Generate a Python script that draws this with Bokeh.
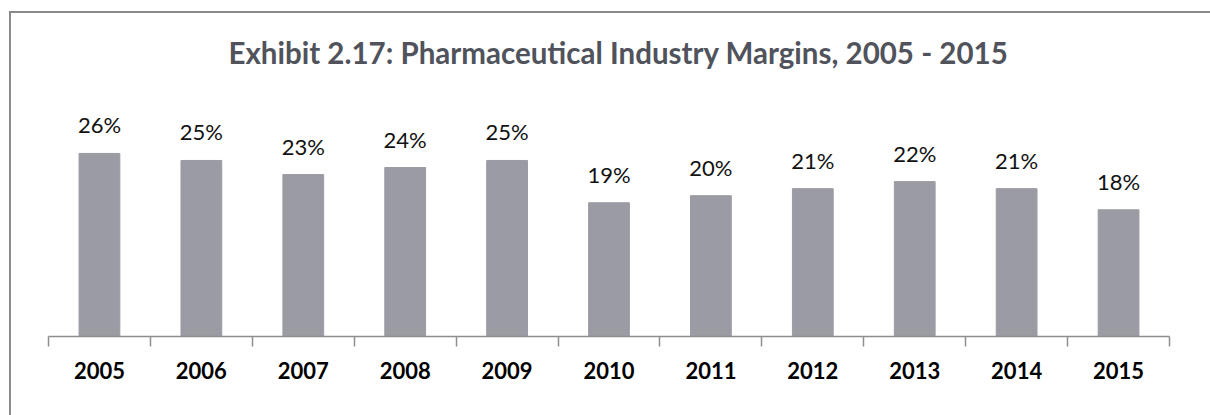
from bokeh.plotting import figure
from bokeh.layouts import column
from bokeh.models import ColumnDataSource, LabelSet, Range1d, FixedTicker
from bokeh.core.properties import value
from bokeh.embed import file_html
from bokeh.resources import INLINE

years = ["2005", "2006", "2007", "2008", "2009", "2010", "2011", "2012", "2013", "2014", "2015"]
margins = [26, 25, 23, 24, 25, 19, 20, 21, 22, 21, 18]
title_text = "Exhibit 2.17: Pharmaceutical Industry Margins, 2005 - 2015"

xs = list(range(len(years)))
src = ColumnDataSource(dict(x=xs, y=margins, lbl=[f"{m}%" for m in margins]))

p = figure(width=1199, height=402, output_backend="svg", toolbar_location=None,
           x_range=Range1d(-0.5, len(years) - 0.5), y_range=Range1d(0, 35.08),
           min_border_left=37, min_border_right=41, min_border_top=75, min_border_bottom=79)

p.title.text = title_text
p.title.align = "left"
p.title.offset = 180
p.title.text_font = "Lato"
p.title.text_font_style = "bold"
p.title.text_font_size = "29.5px"
p.title.text_color = "#50535c"
p.title.standoff = 39

p.vbar(x="x", top="y", width=0.4, source=src, color="#9b9ba4")

labels = LabelSet(x="x", y="y", text="lbl", source=src, text_align="center",
                  text_baseline="alphabetic", y_offset=20, text_font=value("Lato"),
                  text_font_size=value("22px"), text_color="#111111")
p.add_layout(labels)

p.yaxis.visible = False
p.grid.visible = False
p.outline_line_color = None

ax = p.xaxis[0]
ax.ticker = FixedTicker(ticks=xs, minor_ticks=[i - 0.5 for i in range(len(years) + 1)])
ax.major_label_overrides = {i: y for i, y in zip(xs, years)}
ax.major_tick_line_color = None
ax.major_tick_out = 0
ax.major_tick_in = 0
ax.minor_tick_in = 0
ax.minor_tick_out = 10
ax.minor_tick_line_color = "#8e8e8e"
ax.minor_tick_line_width = 1.5
ax.axis_line_color = "#8e8e8e"
ax.axis_line_width = 1.5
ax.major_label_text_font = "Lato"
ax.major_label_text_font_style = "bold"
ax.major_label_text_font_size = "22px"
ax.major_label_text_color = "#000000"
ax.major_label_standoff = 15

# chart-area border: only its top and left edges fall inside the picture
box = column(p, styles={"border-top": "2px solid #8a8a8a", "border-left": "2px solid #8a8a8a",
                        "margin-left": "9px", "margin-top": "11px"})

open("out.html", "w").write(file_html(box, INLINE))
